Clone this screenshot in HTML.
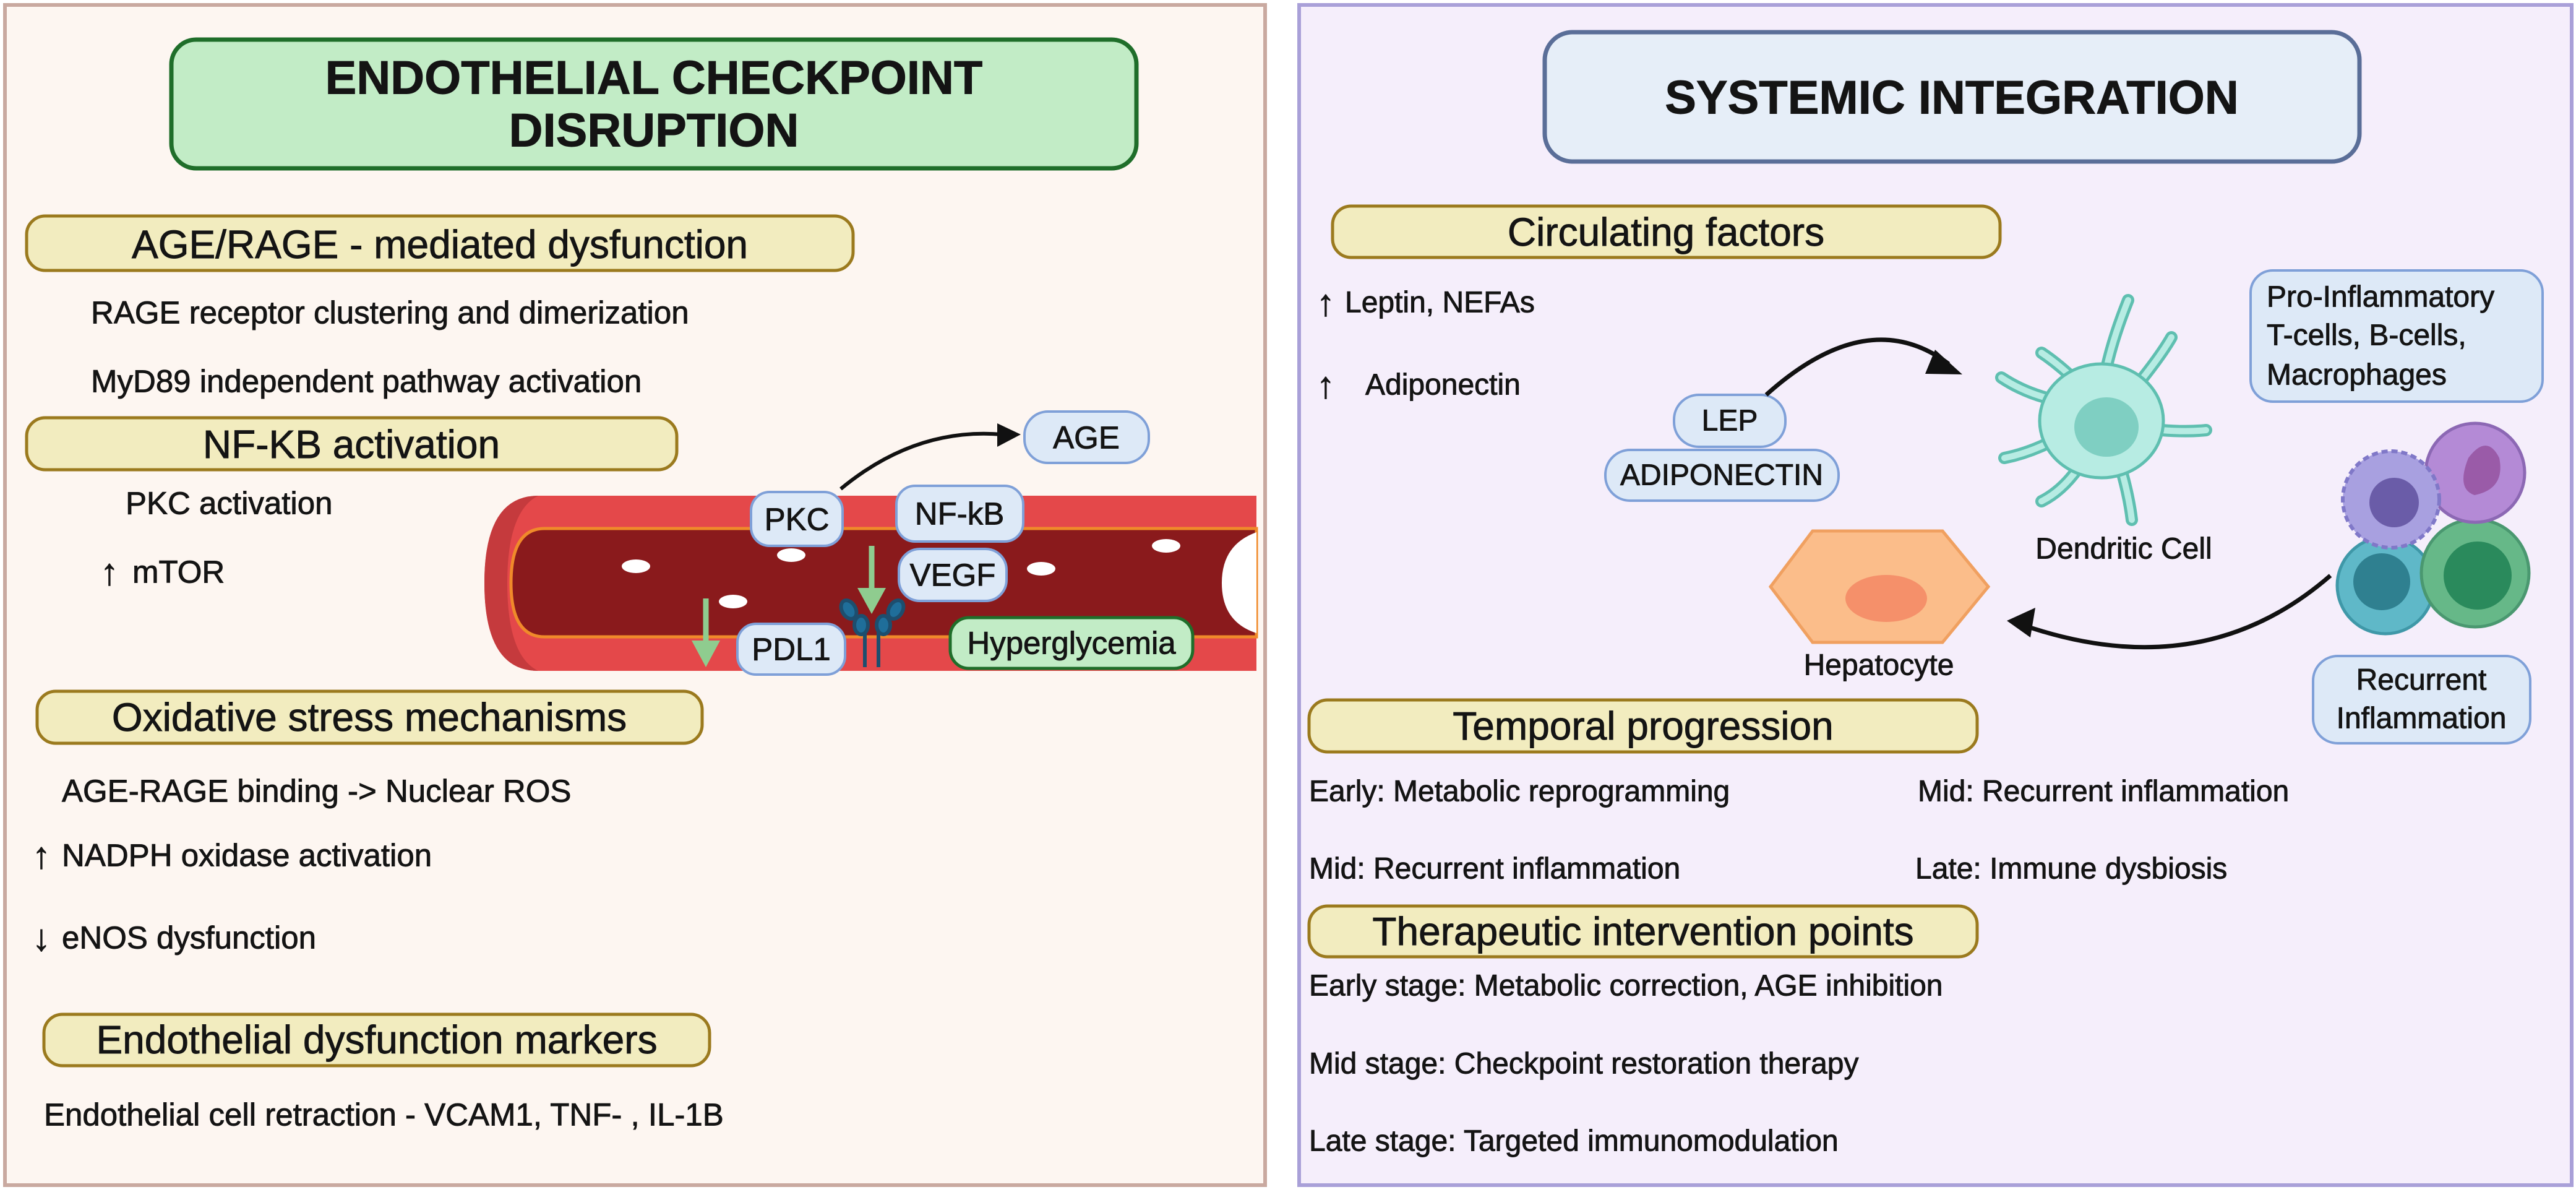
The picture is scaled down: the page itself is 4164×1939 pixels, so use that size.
<!DOCTYPE html>
<html><head><meta charset="utf-8"><style>
html,body{margin:0;padding:0;background:#fff}
svg{display:block}
text{font-family:"Liberation Sans",Arial,sans-serif;fill:#141414;stroke:#141414;stroke-width:0.9px}
.h{font-size:64px}
.b{font-size:51px}
.c{font-size:48px}
.t{font-size:76px;font-weight:bold}
.ar{font-size:60px;font-weight:bold}
</style></head><body>
<svg width="4164" height="1939" viewBox="0 0 4164 1939" xmlns="http://www.w3.org/2000/svg">
<!-- panels -->
<rect x="8" y="8" width="2037" height="1907" fill="#fdf6f1" stroke="#c9a9a0" stroke-width="6"/>
<rect x="2100" y="8" width="2057" height="1907" fill="#f5eefb" stroke="#a9a0d8" stroke-width="6"/>

<!-- LEFT title -->
<rect x="277" y="64" width="1560" height="208" rx="40" fill="#c2ecc6" stroke="#1f6e2a" stroke-width="7"/>
<text class="t" x="1057" y="126" text-anchor="middle" dominant-baseline="central">ENDOTHELIAL CHECKPOINT</text>
<text class="t" x="1057" y="211" text-anchor="middle" dominant-baseline="central">DISRUPTION</text>

<!-- headers left -->
<rect x="43" y="349" width="1336" height="88" rx="30" fill="#f2ecbf" stroke="#9b7a1e" stroke-width="5"/>
<text class="h" x="711" y="395" text-anchor="middle" dominant-baseline="central">AGE/RAGE - mediated dysfunction</text>
<text class="b" x="147" y="505" dominant-baseline="central">RAGE receptor clustering and dimerization</text>
<text class="b" x="147" y="616" dominant-baseline="central">MyD89 independent pathway activation</text>

<rect x="43" y="675" width="1051" height="84" rx="30" fill="#f2ecbf" stroke="#9b7a1e" stroke-width="5"/>
<text class="h" x="568" y="718" text-anchor="middle" dominant-baseline="central">NF-KB activation</text>
<text class="b" x="203" y="813" dominant-baseline="central">PKC activation</text>
<text class="ar" x="162" y="924" dominant-baseline="central">↑</text>
<text class="b" x="214" y="924" dominant-baseline="central">mTOR</text>

<!-- vessel -->
<path d="M870,801 L2031,801 L2031,1084 L870,1084 Q783,1084 783,942 Q783,801 870,801 z" fill="#e4484a"/>
<path d="M870,801 Q783,801 783,942 Q783,1084 870,1084 L870,1084 Q820,1060 820,942 Q820,826 870,801z" fill="#c53a3d"/>
<path d="M880,854 L2031,854 L2031,1029 L880,1029 Q826,1029 826,942 Q826,854 880,854 z" fill="#8a1a1c" stroke="#f08a2a" stroke-width="5"/>
<path d="M2031,860 Q1975,880 1975,942 Q1975,1005 2031,1023 z" fill="#fff"/>
<g fill="#fff">
<ellipse cx="1028" cy="915" rx="23" ry="11"/><ellipse cx="1279" cy="897" rx="23" ry="11"/>
<ellipse cx="1185" cy="972" rx="23" ry="11"/><ellipse cx="1683" cy="919" rx="23" ry="11"/>
<ellipse cx="1885" cy="882" rx="23" ry="11"/>
</g>
<g stroke="#8fcc8f" stroke-width="9" fill="#8fcc8f">
<line x1="1141" y1="967" x2="1141" y2="1040"/><path d="M1118,1035 L1164,1035 L1141,1078z" stroke="none"/>
<line x1="1409" y1="882" x2="1409" y2="955"/><path d="M1386,950 L1432,950 L1409,992z" stroke="none"/>
</g>
<g stroke="#1d4e6e" stroke-width="6" fill="#1f6e9a">
<line x1="1398" y1="1020" x2="1398" y2="1078"/><line x1="1420" y1="1020" x2="1420" y2="1078"/>
<ellipse cx="1372" cy="985" rx="11" ry="16" transform="rotate(-30 1372 985)"/>
<ellipse cx="1392" cy="1010" rx="11" ry="15"/>
<ellipse cx="1448" cy="985" rx="11" ry="16" transform="rotate(30 1448 985)"/>
<ellipse cx="1428" cy="1010" rx="11" ry="15"/>
</g>
<path d="M1359,790 Q1480,690 1620,702" fill="none" stroke="#111" stroke-width="6"/>
<path d="M1612,684 L1650,702 L1612,722z" fill="#111"/>
<g fill="#dde9f7" stroke="#7fa0d8" stroke-width="4">
<rect x="1656" y="665" width="201" height="83" rx="38"/>
<rect x="1214" y="795" width="148" height="87" rx="30"/>
<rect x="1449" y="785" width="205" height="90" rx="30"/>
<rect x="1453" y="887" width="174" height="84" rx="34"/>
<rect x="1192" y="1008" width="174" height="82" rx="30"/>
</g>
<rect x="1536" y="998" width="392" height="82" rx="30" fill="#c2ecc6" stroke="#1f6e2a" stroke-width="5"/>
<text class="b" x="1756" y="707" text-anchor="middle" dominant-baseline="central">AGE</text>
<text class="b" x="1288" y="839" text-anchor="middle" dominant-baseline="central">PKC</text>
<text class="b" x="1551" y="830" text-anchor="middle" dominant-baseline="central">NF-kB</text>
<text class="b" x="1540" y="929" text-anchor="middle" dominant-baseline="central">VEGF</text>
<text class="b" x="1279" y="1049" text-anchor="middle" dominant-baseline="central">PDL1</text>
<text class="b" x="1732" y="1039" text-anchor="middle" dominant-baseline="central">Hyperglycemia</text>

<rect x="60" y="1117" width="1075" height="84" rx="30" fill="#f2ecbf" stroke="#9b7a1e" stroke-width="5"/>
<text class="h" x="597" y="1159" text-anchor="middle" dominant-baseline="central">Oxidative stress mechanisms</text>
<text class="b" x="100" y="1278" dominant-baseline="central">AGE-RAGE binding -&gt; Nuclear ROS</text>
<text class="ar" x="52" y="1382" dominant-baseline="central">↑</text>
<text class="b" x="100" y="1382" dominant-baseline="central">NADPH oxidase activation</text>
<text class="ar" x="52" y="1515" dominant-baseline="central">↓</text>
<text class="b" x="100" y="1515" dominant-baseline="central">eNOS dysfunction</text>

<rect x="71" y="1639" width="1076" height="83" rx="30" fill="#f2ecbf" stroke="#9b7a1e" stroke-width="5"/>
<text class="h" x="609" y="1680" text-anchor="middle" dominant-baseline="central">Endothelial dysfunction markers</text>
<text class="b" x="71" y="1801" dominant-baseline="central">Endothelial cell retraction - VCAM1, TNF- , IL-1B</text>

<!-- RIGHT -->
<rect x="2497" y="52" width="1317" height="209" rx="45" fill="#e6eef8" stroke="#5a6e98" stroke-width="7"/>
<text class="t" x="3155" y="158" text-anchor="middle" dominant-baseline="central" font-size="72">SYSTEMIC INTEGRATION</text>

<rect x="2154" y="333" width="1079" height="83" rx="30" fill="#f2ecbf" stroke="#9b7a1e" stroke-width="5"/>
<text class="h" x="2693" y="375" text-anchor="middle" dominant-baseline="central">Circulating factors</text>
<text class="ar" x="2128" y="489" dominant-baseline="central">↑</text>
<text class="c" x="2174" y="489" dominant-baseline="central">Leptin, NEFAs</text>
<text class="ar" x="2128" y="622" dominant-baseline="central">↑</text>
<text class="c" x="2207" y="622" dominant-baseline="central">Adiponectin</text>

<g fill="#dde9f7" stroke="#7fa0d8" stroke-width="4">
<rect x="2706" y="638" width="180" height="84" rx="40"/>
<rect x="2595" y="727" width="377" height="82" rx="40"/>
<rect x="3638" y="437" width="472" height="212" rx="36"/>
<rect x="3739" y="1060" width="351" height="141" rx="40"/>
</g>
<text class="c" x="2796" y="680" text-anchor="middle" dominant-baseline="central">LEP</text>
<text class="c" x="2783" y="768" text-anchor="middle" dominant-baseline="central">ADIPONECTIN</text>
<text class="c" x="3664" y="480" dominant-baseline="central">Pro-Inflammatory</text>
<text class="c" x="3664" y="542" dominant-baseline="central">T-cells, B-cells,</text>
<text class="c" x="3664" y="606" dominant-baseline="central">Macrophages</text>
<text class="c" x="3914" y="1099" text-anchor="middle" dominant-baseline="central">Recurrent</text>
<text class="c" x="3914" y="1161" text-anchor="middle" dominant-baseline="central">Inflammation</text>

<path d="M2855,638 Q3020,490 3150,588" fill="none" stroke="#111" stroke-width="7"/>
<path d="M3128,565 L3172,605 L3112,604z" fill="#111"/>
<path d="M3767,930 Q3560,1110 3270,1010" fill="none" stroke="#111" stroke-width="7"/>
<path d="M3244,1003 L3290,982 L3282,1030z" fill="#111"/>

<g stroke="#5fbfb0" stroke-width="20" stroke-linecap="round" fill="none">
<path d="M3400,620 Q3410,560 3440,485"/><path d="M3440,640 Q3490,580 3510,545"/>
<path d="M3450,690 Q3520,700 3566,695"/><path d="M3420,730 Q3440,790 3446,840"/>
<path d="M3370,740 Q3340,790 3300,810"/><path d="M3340,700 Q3290,730 3240,740"/>
<path d="M3340,650 Q3280,640 3235,610"/><path d="M3360,620 Q3330,590 3300,570"/>
</g>
<g stroke="#b7ece3" stroke-width="10" stroke-linecap="round" fill="none">
<path d="M3400,620 Q3410,560 3440,485"/><path d="M3440,640 Q3490,580 3510,545"/>
<path d="M3450,690 Q3520,700 3566,695"/><path d="M3420,730 Q3440,790 3446,840"/>
<path d="M3370,740 Q3340,790 3300,810"/><path d="M3340,700 Q3290,730 3240,740"/>
<path d="M3340,650 Q3280,640 3235,610"/><path d="M3360,620 Q3330,590 3300,570"/>
</g>
<ellipse cx="3397" cy="680" rx="100" ry="92" fill="#b7ece3" stroke="#5fbfb0" stroke-width="5"/>
<ellipse cx="3405" cy="690" rx="52" ry="48" fill="#7fcfc2"/>
<text class="c" x="3433" y="887" text-anchor="middle" dominant-baseline="central">Dendritic Cell</text>

<path d="M2930,858 L3140,858 L3214,948 L3140,1038 L2930,1038 L2862,948 z" fill="#fbbd8a" stroke="#f0a060" stroke-width="5"/>
<ellipse cx="3049" cy="967" rx="66" ry="38" fill="#f5906a"/>
<text class="c" x="3037" y="1075" text-anchor="middle" dominant-baseline="central">Hepatocyte</text>

<circle cx="3856" cy="946" r="78" fill="#5fb8c8" stroke="#3f98a8" stroke-width="5"/>
<circle cx="3850" cy="940" r="46" fill="#2f8090"/>
<circle cx="4001" cy="926" r="87" fill="#66b888" stroke="#4a9870" stroke-width="5"/>
<circle cx="4005" cy="930" r="55" fill="#2a8a5c"/>
<circle cx="4001" cy="764" r="80" fill="#b48ad6" stroke="#8c68b4" stroke-width="5"/>
<path d="M3990,740 q30,-40 50,0 q10,50 -40,60 q-30,-10 -10,-60z" fill="#9a5ba8"/>
<circle cx="3865" cy="807" r="78" fill="#a8a0e0" stroke="#8078c8" stroke-width="6" stroke-dasharray="10 6"/>
<circle cx="3870" cy="812" r="40" fill="#6a5ca8"/>

<rect x="2116" y="1131" width="1080" height="84" rx="30" fill="#f2ecbf" stroke="#9b7a1e" stroke-width="5"/>
<text class="h" x="2656" y="1173" text-anchor="middle" dominant-baseline="central">Temporal progression</text>
<text class="c" x="2116" y="1279" dominant-baseline="central">Early: Metabolic reprogramming</text>
<text class="c" x="3100" y="1279" dominant-baseline="central">Mid: Recurrent inflammation</text>
<text class="c" x="2116" y="1404" dominant-baseline="central">Mid: Recurrent inflammation</text>
<text class="c" x="3096" y="1404" dominant-baseline="central">Late: Immune dysbiosis</text>

<rect x="2116" y="1464" width="1080" height="82" rx="30" fill="#f2ecbf" stroke="#9b7a1e" stroke-width="5"/>
<text class="h" x="2656" y="1505" text-anchor="middle" dominant-baseline="central">Therapeutic intervention points</text>
<text class="c" x="2116" y="1593" dominant-baseline="central">Early stage: Metabolic correction, AGE inhibition</text>
<text class="c" x="2116" y="1719" dominant-baseline="central">Mid stage: Checkpoint restoration therapy</text>
<text class="c" x="2116" y="1844" dominant-baseline="central">Late stage: Targeted immunomodulation</text>
</svg>
</body></html>
